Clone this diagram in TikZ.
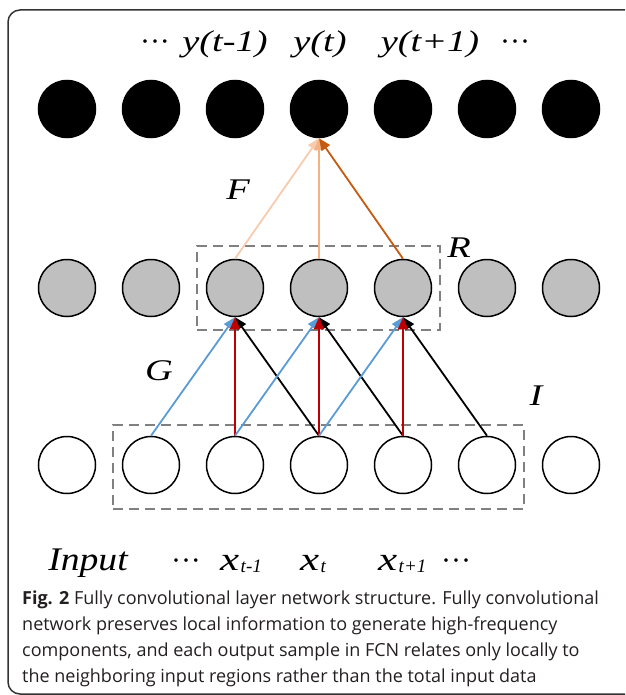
\documentclass[tikz,border=0pt]{standalone}
\usepackage{fontspec}
\setmainfont{Liberation Serif}
\newfontfamily\capfont{Open Sans}
\usetikzlibrary{arrows.meta}
\definecolor{cblue}{HTML}{5B9BD5}
\definecolor{cred}{HTML}{C00000}
\definecolor{cpeach}{HTML}{F8CBAD}
\definecolor{cmid}{HTML}{F4B183}
\definecolor{cdark}{HTML}{C55A11}
\definecolor{cgrayfill}{HTML}{BFBFBF}
\definecolor{cdash}{HTML}{808080}
\definecolor{ctext}{HTML}{231F20}
\newcommand\wx[1]{\scalebox{1.28}[1]{#1}}
\newcommand\bigx{\scalebox{1.3}[1]{x}}
\newcommand\subx[1]{\kern1.5pt\raisebox{-2pt}{\fontsize{19}{19}\selectfont #1}}
\tikzset{
  neuron/.style={circle, minimum size=57pt, inner sep=0pt, draw=black, line width=1.5pt},
  outn/.style={neuron, fill=black},
  hidn/.style={neuron, fill=cgrayfill},
  inn/.style={neuron, fill=white},
  conn/.style={line width=1.8pt, -{Triangle[length=12pt,width=10pt]}},
  dashbox/.style={draw=cdash, line width=1.5pt, dash pattern=on 10pt off 6pt},
  lbl/.style={font=\fontsize{30}{30}\selectfont\itshape, inner sep=0pt},
  blbl/.style={font=\fontsize{33}{33}\selectfont\itshape, inner sep=0pt},
  caprow/.style={anchor=base west, inner sep=0pt, text=ctext, font=\capfont\fontsize{18}{18}\selectfont}
}
\begin{document}
\begin{tikzpicture}[x=1pt,y=-1pt]
\useasboundingbox (0,0) rectangle (625,695);
\begin{scope}
\clip (0,0) rectangle (625,695);
\draw[line width=1.5pt, draw=black!80, rounded corners=12pt] (8,10) rectangle (650,694);
\end{scope}
% dashed boxes
\node[dashbox, minimum width=243pt, minimum height=84pt, inner sep=0pt] (Rbox) at (318.5,288) {};
\node[dashbox, minimum width=411pt, minimum height=84pt, inner sep=0pt] (Ibox) at (318.5,467) {};
% neurons
\foreach \i in {0,...,6}{
  \node[outn] (o\i) at ({67+84*\i},109) {};
  \node[hidn] (h\i) at ({67+84*\i},288) {};
  \node[inn]  (n\i) at ({67+84*\i},465) {};
}
% G connections
\foreach \k in {2,3,4}{
  \pgfmathtruncatemacro{\l}{\k-1}
  \pgfmathtruncatemacro{\r}{\k+1}
  \draw[conn, black] (n\r.north) -- (h\k.south);
  \draw[conn, cblue] (n\l.north) -- (h\k.south);
  \draw[conn, cred] (n\k.north) -- (h\k.south);
}
% F connections
\draw[conn, cpeach] (h2.north) -- (o3.south);
\draw[conn, cmid] (h3.north) -- (o3.south);
\draw[conn, cdark] (h4.north) -- (o3.south);
% labels
\node[lbl] (lF) at (238,190) {\wx{F}};
\node[lbl] (lG) at (159,371) {\wx{G}};
\node[lbl] (lR) at (459,248) {\wx{R}};
\node[lbl] (lI) at (536,396) {\wx{I}};
\node[lbl, anchor=base] (td1) at (155,52) {\upshape ···};
\node[lbl, anchor=base] (ty1) at (225,52) {\wx{y(t-1)}};
\node[lbl, anchor=base] (ty2) at (320,52) {\wx{y(t)}};
\node[lbl, anchor=base] (ty3) at (430,52) {\wx{y(t+1)}};
\node[lbl, anchor=base] (td2) at (515,52) {\upshape ···};
\node[blbl, anchor=base] (bin) at (88,570) {\scalebox{1.14}[1]{Input}};
\node[lbl, anchor=base] (bd1) at (186,570) {\upshape ···};
\node[blbl, anchor=base west] (bx1) at (220,570) {\bigx\subx{t-1}};
\node[blbl, anchor=base west] (bx2) at (300,570) {\bigx\subx{t}};
\node[blbl, anchor=base west] (bx3) at (378,570) {\bigx\subx{t+1}};
\node[lbl, anchor=base] (bd2) at (456,570) {\upshape ···};
% caption
\node[caprow] (c1) at (22,604) {\textbf{Fig. 2} Fully convolutional layer network structure. Fully convolutional};
\node[caprow] (c2) at (22,630) {network preserves local information to generate high-frequency};
\node[caprow] (c3) at (22,656) {components, and each output sample in FCN relates only locally to};
\node[caprow] (c4) at (22,682) {the neighboring input regions rather than the total input data};
\end{tikzpicture}
\end{document}
